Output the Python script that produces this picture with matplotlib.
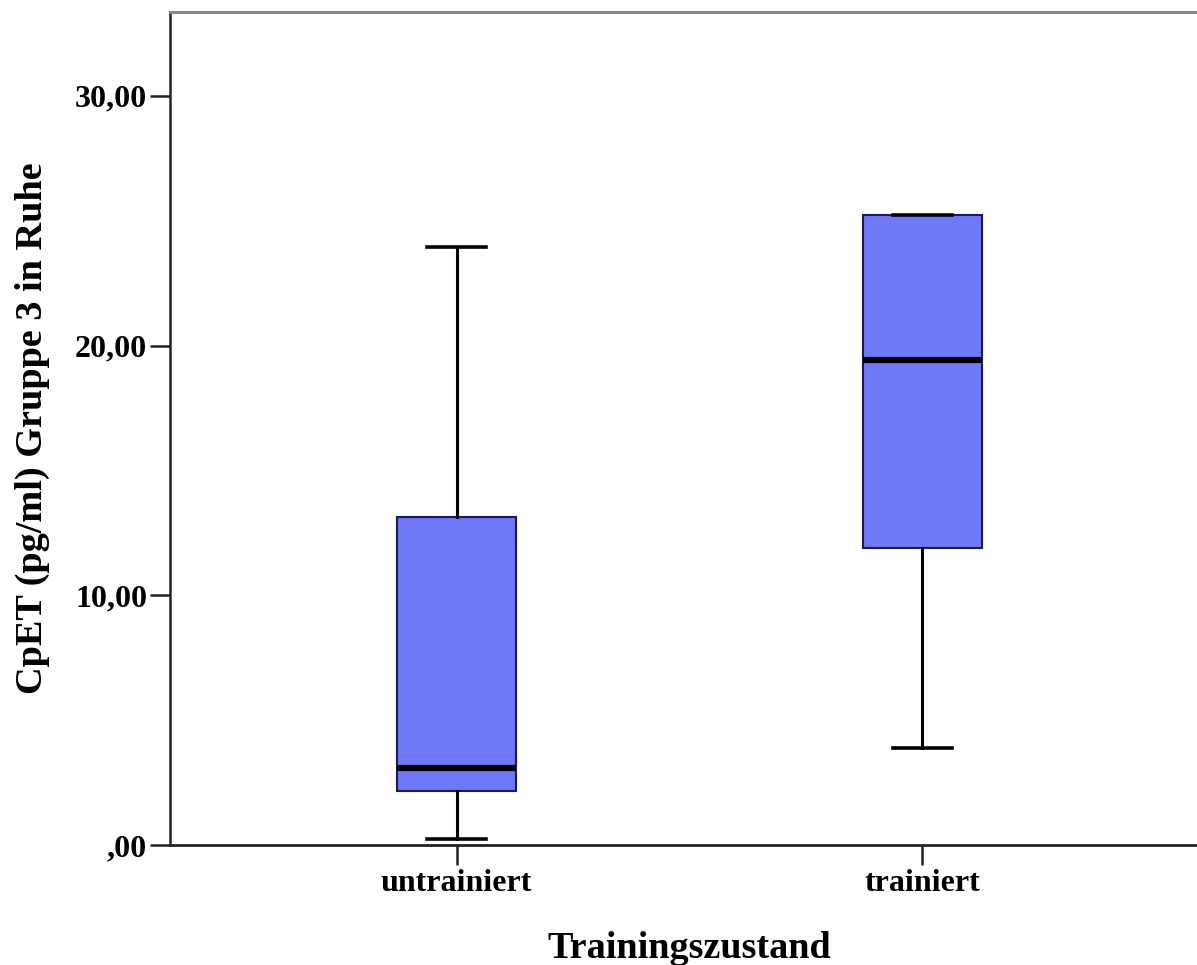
import matplotlib
matplotlib.use("Agg")
import matplotlib.pyplot as plt

categories = ["untrainiert", "trainiert"]
whislo = [0.24, 3.88]
q1 = [2.16, 11.89]
med = [3.08, 19.42]
q3 = [13.14, 25.23]
whishi = [23.95, 25.23]
yticks = [0, 10, 20, 30]
yticklabels = [",00", "10,00", "20,00", "30,00"]

plt.rcParams['font.family'] = ['Liberation Serif', 'DejaVu Serif']
plt.rcParams['font.weight'] = 'bold'

fig = plt.figure(figsize=(11.97, 9.65), dpi=100)
W, H = 1197, 965
left, right, top, bottom = 170, 1209, 12, 845
ax = fig.add_axes([left / W, (H - bottom) / H, (right - left) / W, (bottom - top) / H])

stats = []
for i, c in enumerate(categories):
    stats.append(dict(label=c, whislo=whislo[i], q1=q1[i], med=med[i],
                      q3=q3[i], whishi=whishi[i], fliers=[]))

positions = list(range(1, len(categories) + 1))
ax.bxp(stats, positions=positions, widths=0.255, capwidths=0.128,
       patch_artist=True, showfliers=False,
       boxprops=dict(facecolor='#6F78F8', edgecolor='#1a1a5a', linewidth=1.5),
       medianprops=dict(color='black', linewidth=4.5, solid_capstyle='butt'),
       whiskerprops=dict(color='black', linewidth=2.2),
       capprops=dict(color='black', linewidth=2.6))

ax.set_xlim(0.385, 2.615)
ax.set_ylim(0, 33.36)
ax.set_yticks(yticks)
ax.set_yticklabels(yticklabels)
ax.set_xticks(positions)
ax.set_xticklabels(categories)

ax.tick_params(axis='both', direction='out', length=14.5, width=1.8,
               color='#222222', labelsize=23, pad=2)
ax.tick_params(axis='x', pad=3)
for lbl in ax.get_xticklabels() + ax.get_yticklabels():
    lbl.set_fontweight('bold')

ax.spines['right'].set_visible(False)
ax.spines['top'].set_color('#888888')
ax.spines['top'].set_linewidth(2.2)
ax.spines['left'].set_color('#222222')
ax.spines['left'].set_linewidth(1.8)
ax.spines['bottom'].set_color('#222222')
ax.spines['bottom'].set_linewidth(2.0)

ax.set_xlabel("Trainingszustand", fontsize=27.5, fontweight='bold')
ax.set_ylabel("CpET (pg/ml) Gruppe 3 in Ruhe", fontsize=27.5, fontweight='bold')
ax.xaxis.set_label_coords(0.5, -(931 - bottom) / (bottom - top))
ax.yaxis.set_label_coords((50 - left) / (right - left), 0.5)

fig.savefig("out.png", dpi=100)
